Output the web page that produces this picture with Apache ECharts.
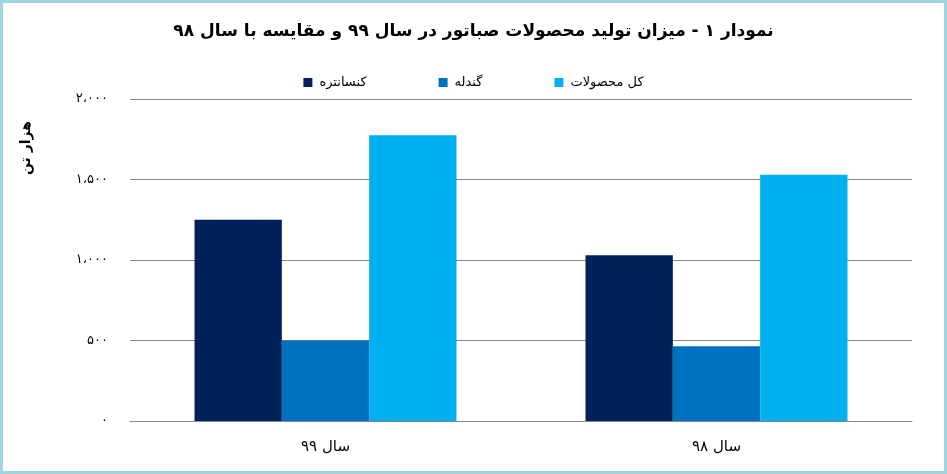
<!DOCTYPE html>
<html lang="fa">
<head>
    <meta charset="UTF-8">
    <title>نمودار ۱</title>
    <style>
        html, body {
            margin: 0;
            background: #fff;
        }

        #chart {
            width: 947px;
            height: 474px;
            box-sizing: border-box;
            border: 3px solid #a0d3e0;
        }
    </style>
</head>
<body>
    <div id="chart"></div>

    <script src="https://cdn.jsdelivr.net/npm/echarts@6/dist/echarts.min.js"></script>
    <script>
        // داده‌ها
        var categories = ['سال ۹۹', 'سال ۹۸'];
        var seriesNames = ['کنسانتره', 'گندله', 'کل محصولات'];
        var concentrate = [1250, 1030];
        var pellet = [500, 465];
        var totalProducts = [1775, 1530];
        var yTicks = [0, 500, 1000, 1500, 2000];
        var faDigits = ['۰', '۱', '۲', '۳', '۴', '۵', '۶', '۷', '۸', '۹'];

        var fontFamily = '"DejaVu Sans", sans-serif';

        // عدد به ارقام فارسی با جداکننده هزارگان
        function toFa(v) {
            var s = String(v).replace(/\B(?=(\d{3})+(?!\d))/g, '،');
            return s.replace(/\d/g, function(d) { return faDigits[+d]; });
        }

        var myChart = echarts.init(document.getElementById('chart'));

        var option = {
            color: ['#00215a', '#0070c0', '#00b0f0'],
            animation: false,
            title: {
                text: 'نمودار ۱ - میزان تولید محصولات صباتور در سال ۹۹ و مقایسه با سال ۹۸',
                left: 'center',
                top: 15,
                textStyle: {
                    fontFamily: fontFamily,
                    fontSize: 17,
                    fontWeight: 'bold',
                    color: '#000'
                }
            },
            legend: {
                data: seriesNames,
                top: 68,
                left: 'center',
                itemWidth: 9,
                itemHeight: 9,
                itemGap: 72,
                icon: 'rect',
                textStyle: {
                    fontFamily: fontFamily,
                    fontSize: 13,
                    color: '#000',
                    padding: [0, 0, 0, 2]
                }
            },
            grid: {
                left: 127,
                right: 32,
                top: 96,
                bottom: 50
            },
            xAxis: {
                type: 'category',
                data: categories,
                axisLine: { lineStyle: { color: '#888', width: 1 } },
                axisTick: { length: 7, lineStyle: { color: '#888' } },
                axisLabel: {
                    margin: 19,
                    fontFamily: fontFamily,
                    fontSize: 15,
                    color: '#000'
                }
            },
            yAxis: {
                type: 'value',
                min: yTicks[0],
                max: yTicks[yTicks.length - 1],
                interval: yTicks[1] - yTicks[0],
                axisLine: { show: false },
                axisTick: { show: false },
                splitLine: { lineStyle: { color: '#888', width: 1 } },
                axisLabel: {
                    margin: 22,
                    fontFamily: fontFamily,
                    fontSize: 13,
                    color: '#000',
                    formatter: toFa
                }
            },
            graphic: [{
                type: 'text',
                left: 16,
                top: 118,
                rotation: Math.PI / 2,
                style: {
                    text: 'هزار تن',
                    fontFamily: fontFamily,
                    fontSize: 14,
                    fontWeight: 'bold',
                    fill: '#000'
                }
            }],
            series: [{
                name: seriesNames[0],
                type: 'bar',
                data: concentrate,
                barGap: '0%',
                barCategoryGap: '33%'
            }, {
                name: seriesNames[1],
                type: 'bar',
                data: pellet
            }, {
                name: seriesNames[2],
                type: 'bar',
                data: totalProducts
            }]
        };

        myChart.setOption(option);
    </script>
</body>
</html>
